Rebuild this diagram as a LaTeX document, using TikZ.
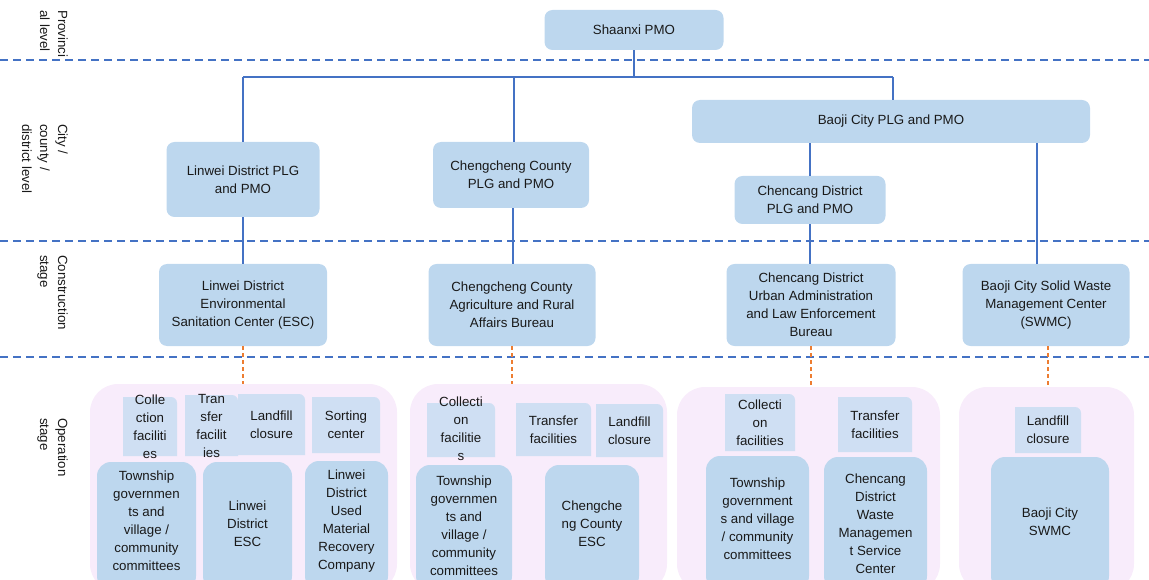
\documentclass[tikz,border=0pt]{standalone}
\usepackage{fontspec}
\setmainfont{Liberation Sans}
\definecolor{boxblue}{HTML}{BDD7EE}
\definecolor{smallblue}{HTML}{CFDFF3}
\definecolor{grouppink}{HTML}{F8ECFB}
\definecolor{lineblue}{HTML}{4472C4}
\definecolor{lineorange}{HTML}{ED7D31}
\tikzset{
  txt/.style={font=\fontsize{13.3}{18}\selectfont, align=center, inner sep=0pt, text=black!90},
  bigbox/.style={txt, fill=boxblue, rounded corners=8pt},
  opbox/.style={fill=boxblue, rounded corners=14pt},
  smallbox/.style={fill=smallblue},
  groupbox/.style={fill=grouppink, rounded corners=28pt, inner sep=0pt},
  conn/.style={draw=lineblue, line width=1.8pt},
  opconn/.style={draw=lineorange, line width=1.6pt, dash pattern=on 4pt off 3pt},
  sep/.style={draw=lineblue, line width=2pt, dash pattern=on 8pt off 5pt},
  side/.style={txt, rotate=-90, anchor=north west, align=left}
}
\begin{document}
\begin{tikzpicture}[x=1pt,y=-1pt]
\useasboundingbox (0,0) rectangle (1149,580);
% separators
\coordinate (s1l) at (0,60); \coordinate (s1r) at (1149,60);
\coordinate (s2l) at (0,241); \coordinate (s2r) at (1149,241);
\coordinate (s3l) at (0,357); \coordinate (s3r) at (1149,357);
\draw[sep] (s1l) -- (s1r);
\draw[sep] (s2l) -- (s2r);
\draw[sep] (s3l) -- (s3r);
% side labels
\node[side] (lprov) at (68,10) {Provinci\\al level};
\node[side] (lcity) at (68,124) {City /\\county /\\district level};
\node[side] (lcons) at (68,255) {Construction\\stage};
\node[side] (loper) at (68,418) {Operation\\stage};
% top level
\node[bigbox, minimum width=179, minimum height=40] (shaanxi) at (634,30) {Shaanxi PMO};
\node[bigbox, minimum width=398, minimum height=43] (baojiPLG) at (891,121.5) {Baoji City PLG and PMO};
\node[bigbox, minimum width=153, minimum height=75] (linweiPLG) at (243,179.5) {Linwei District PLG\\and PMO};
\node[bigbox, minimum width=156, minimum height=66] (ccPLG) at (511,175) {Chengcheng County\\PLG and PMO};
\node[bigbox, minimum width=151, minimum height=48] (cxPLG) at (810,200) {Chencang District\\PLG and PMO};
% construction
\node[bigbox, minimum width=168, minimum height=82] (linweiESC) at (243,305) {Linwei District\\Environmental\\Sanitation Center (ESC)};
\node[bigbox, minimum width=167, minimum height=82] (ccBureau) at (512,305) {Chengcheng County\\Agriculture and Rural\\Affairs Bureau};
\node[bigbox, minimum width=169, minimum height=82] (cxBureau) at (811,305) {Chencang District\\Urban Administration\\and Law Enforcement\\Bureau};
\node[bigbox, minimum width=167, minimum height=82] (swmc) at (1046,305) {Baoji City Solid Waste\\Management Center\\(SWMC)};
% connectors
\coordinate (busL) at (243,77);
\coordinate (busR) at (893,77);
\draw[conn] (shaanxi.south) -- (shaanxi.south |- busL);
\draw[conn] (busL) -- (busR);
\draw[conn] (busL) -- (linweiPLG.north);
\draw[conn] ([xshift=3pt]ccPLG.north |- busL) -- ([xshift=3pt]ccPLG.north);
\draw[conn] (busR) -- (busR |- baojiPLG.north);
\draw[conn] (cxPLG.north |- baojiPLG.south) -- (cxPLG.north);
\draw[conn] ([xshift=-9pt]swmc.north |- baojiPLG.south) -- ([xshift=-9pt]swmc.north);
\draw[conn] (linweiPLG.south) -- (linweiESC.north);
\draw[conn] ([xshift=2pt]ccPLG.south) -- ([xshift=1pt]ccBureau.north);
\draw[conn] (cxPLG.south) -- (cxBureau.north -| cxPLG.south);
% groups
\node[groupbox, minimum width=307, minimum height=208] (g1) at (243.5,488) {};
\node[groupbox, minimum width=257, minimum height=208] (g2) at (538.5,488) {};
\node[groupbox, minimum width=263, minimum height=205] (g3) at (808.5,489.5) {};
\node[groupbox, minimum width=175, minimum height=205] (g4) at (1046.5,489.5) {};
\draw[opconn] (linweiESC.south) -- (linweiESC.south |- g1.north);
\draw[opconn] (ccBureau.south) -- (ccBureau.south |- g2.north);
\draw[opconn] (cxBureau.south) -- (cxBureau.south |- g3.north);
\draw[opconn] ([xshift=2pt]swmc.south) -- ([xshift=2pt]swmc.south |- g4.north);
% small boxes with the top-right corner rounded
% group 1
\fill[smallbox] (123,456) -- (123,397) -- (171,397) arc[start angle=-90,end angle=0,radius=6] -- (177,456) -- cycle;
\node[txt] (g1a) at (150,426.5) {Colle\\ction\\faciliti\\es};
\fill[smallbox] (185,456) -- (185,395) -- (232,395) arc[start angle=-90,end angle=0,radius=6] -- (238,456) -- cycle;
\node[txt] (g1b) at (211.5,426) {Tran\\sfer\\facilit\\ies};
\fill[smallbox] (238,455) -- (238,394) -- (299,394) arc[start angle=-90,end angle=0,radius=6] -- (305,455) -- cycle;
\node[txt] (g1c) at (271.5,424.5) {Landfill\\closure};
\fill[smallbox] (312,453) -- (312,397) -- (374,397) arc[start angle=-90,end angle=0,radius=6] -- (380,453) -- cycle;
\node[txt] (g1d) at (346,425) {Sorting\\center};
\fill[opbox] (97,462) rectangle (196,590);
\node[txt] (g1e) at (146.5,521) {Township\\governmen\\ts and\\village /\\community\\committees};
\fill[opbox] (203,462) rectangle (292,590);
\node[txt] (g1f) at (247.5,524) {Linwei\\District\\ESC};
\fill[opbox] (305,461) rectangle (388,590);
\node[txt] (g1g) at (346.5,521) {Linwei\\District\\Used\\Material\\Recovery\\Company};
% group 2
\fill[smallbox] (427,457) -- (427,403) -- (489,403) arc[start angle=-90,end angle=0,radius=6] -- (495,457) -- cycle;
\node[txt] (g2a) at (461,428.5) {Collecti\\on\\facilitie\\s};
\fill[smallbox] (516,456) -- (516,403) -- (585,403) arc[start angle=-90,end angle=0,radius=6] -- (591,456) -- cycle;
\node[txt] (g2b) at (553.5,429.5) {Transfer\\facilities};
\fill[smallbox] (596,457) -- (596,404) -- (657,404) arc[start angle=-90,end angle=0,radius=6] -- (663,457) -- cycle;
\node[txt] (g2c) at (629.5,431) {Landfill\\closure};
\fill[opbox] (416,465) rectangle (512,590);
\node[txt] (g2e) at (464,526) {Township\\governmen\\ts and\\village /\\community\\committees};
\fill[opbox] (545,465) rectangle (639,590);
\node[txt] (g2f) at (592,524) {Chengche\\ng County\\ESC};
% group 3
\fill[smallbox] (725,451) -- (725,394) -- (789,394) arc[start angle=-90,end angle=0,radius=6] -- (795,451) -- cycle;
\node[txt] (g3a) at (760,422.5) {Collecti\\on\\facilities};
\fill[smallbox] (838,452) -- (838,397) -- (906,397) arc[start angle=-90,end angle=0,radius=6] -- (912,452) -- cycle;
\node[txt] (g3b) at (875,424.5) {Transfer\\facilities};
\fill[opbox] (706,456) rectangle (809,590);
\node[txt] (g3e) at (757.5,519) {Township\\government\\s and village\\/ community\\committees};
\fill[opbox] (824,457) rectangle (927,590);
\node[txt] (g3f) at (875.5,523.5) {Chencang\\District\\Waste\\Managemen\\t Service\\Center};
% group 4
\fill[smallbox] (1015,453) -- (1015,407) -- (1075,407) arc[start angle=-90,end angle=0,radius=6] -- (1081,453) -- cycle;
\node[txt] (g4a) at (1048,430) {Landfill\\closure};
\fill[opbox] (991,457) rectangle (1109,590);
\node[txt] (g4f) at (1050,521.5) {Baoji City\\SWMC};
\end{tikzpicture}
\end{document}
